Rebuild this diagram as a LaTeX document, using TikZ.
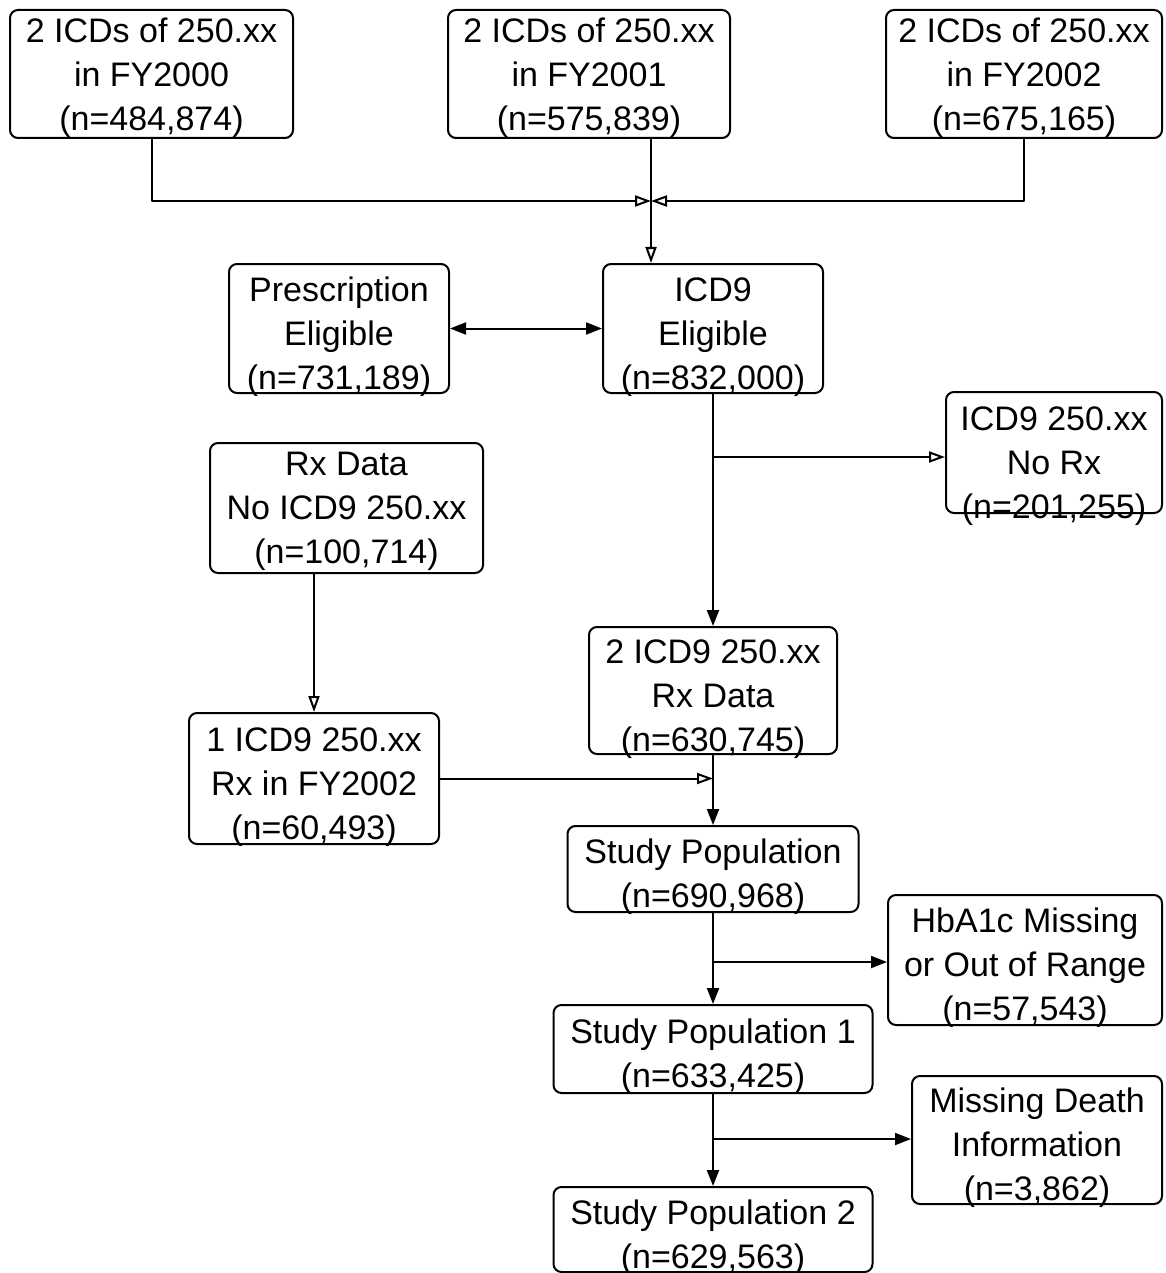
\documentclass[tikz,border=0pt]{standalone}
\usepackage{fontspec}
\setmainfont{Liberation Sans}
\usetikzlibrary{arrows.meta}
% text block hung lower than the box centre, not taking up height
\newcommand\boxtext[2][4pt]{\raisebox{\dimexpr-4.3pt-#1\relax}[0pt][0pt]{\begin{tabular}{@{}c@{}}#2\end{tabular}}}
\begin{document}
\begin{tikzpicture}[x=0.5pt,y=-0.5pt,line width=1pt,line join=round,
	box/.style={draw,rounded corners=4pt,inner sep=0pt,
		font=\fontsize{17pt}{22pt}\selectfont},
	sz/.style 2 args={minimum width=#1*0.5pt,minimum height=#2*0.5pt},
	fa/.style={-{Triangle[length=8pt,width=6pt]}},
	da/.style={{Triangle[length=8pt,width=6pt]}-{Triangle[length=8pt,width=6pt]}},
	oa/.style={-{Triangle[open,length=8pt,width=5.5pt]}}]
	\useasboundingbox (0,0) rectangle (1166,1273);
	\node[box,sz={283}{128}] (fyA) at (151.5,74) {\boxtext[2pt]{2 ICDs of 250.xx\\in FY2000\\(n=484,874)}};
	\node[box,sz={282}{128}] (fyB) at (589,74) {\boxtext[2pt]{2 ICDs of 250.xx\\in FY2001\\(n=575,839)}};
	\node[box,sz={276}{128}] (fyC) at (1024,74) {\boxtext[2pt]{2 ICDs of 250.xx\\in FY2002\\(n=675,165)}};
	\node[box,sz={220}{129}] (rxelig) at (339,328.5) {\boxtext{Prescription\\Eligible\\(n=731,189)}};
	\node[box,sz={220}{129}] (icdelig) at (713,328.5) {\boxtext{ICD9\\Eligible\\(n=832,000)}};
	\node[box,sz={273}{130}] (rxnoicd) at (346.5,508) {\boxtext[1.5pt]{Rx Data\\No ICD9 250.xx\\(n=100,714)}};
	\node[box,sz={216}{121}] (icdnorx) at (1054,452.5) {\boxtext[6.5pt]{ICD9 250.xx\\No Rx\\(n=201,255)}};
	\node[box,sz={248}{127}] (icdrx) at (713,690.5) {\boxtext{2 ICD9 250.xx\\Rx Data\\(n=630,745)}};
	\node[box,sz={250}{131}] (onercd) at (314,778.5) {\boxtext{1 ICD9 250.xx\\Rx in FY2002\\(n=60,493)}};
	\node[box,sz={291}{86}] (study) at (713,869) {\boxtext{Study Population\\(n=690,968)}};
	\node[box,sz={274}{130}] (hba) at (1025,960) {\boxtext{HbA1c Missing\\or Out of Range\\(n=57,543)}};
	\node[box,sz={319}{88}] (study1) at (713,1049) {\boxtext{Study Population 1\\(n=633,425)}};
	\node[box,sz={250}{128}] (death) at (1037,1140) {\boxtext{Missing Death\\Information\\(n=3,862)}};
	\node[box,sz={319}{85}] (study2) at (713,1229.5) {\boxtext{Study Population 2\\(n=629,563)}};
	% merging the three years
	\coordinate (mrg) at (651,201);
	\draw[oa] (fyA.south) |- (mrg);
	\draw[oa] (fyC.south) |- (mrg);
	\draw[oa] (fyB.south -| mrg) -- (mrg |- icdelig.north);
	\draw[da] (rxelig) -- (icdelig);
	\draw[fa] (icdelig) -- (icdrx);
	\coordinate (br1) at (713,457);
	\draw[oa] (br1) -- (br1 -| icdnorx.west);
	\draw[oa] (rxnoicd.south -| onercd.north) -- (onercd.north);
	\draw[oa] (onercd.east) -- (onercd.east -| icdrx.south);
	\draw[fa] (icdrx) -- (study);
	% exclusions
	\draw[fa] (study) -- (study1);
	\coordinate (br2) at (713,962);
	\draw[fa] (br2) -- (br2 -| hba.west);
	\draw[fa] (study1) -- (study2);
	\coordinate (br3) at (713,1139);
	\draw[fa] (br3) -- (br3 -| death.west);
\end{tikzpicture}
\end{document}
